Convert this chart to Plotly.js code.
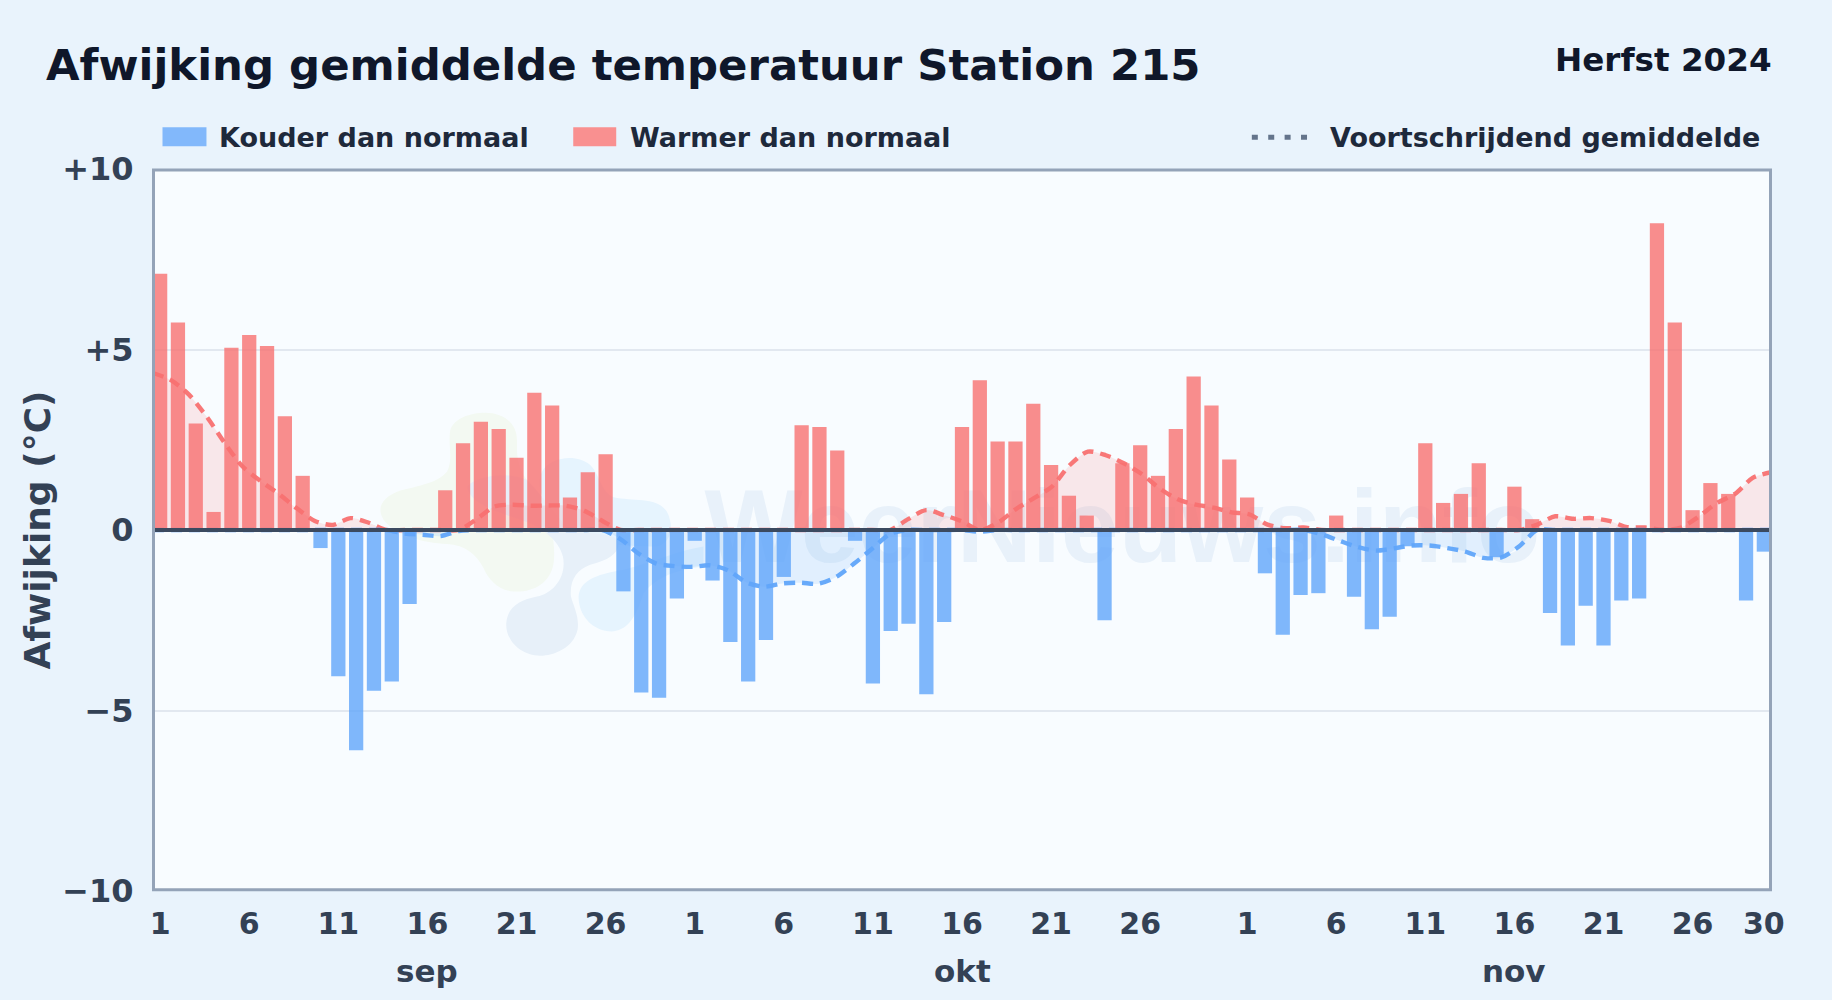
<!DOCTYPE html>
<html>
<head>
<meta charset="utf-8">
<script src="https://cdn.plot.ly/plotly-3.0.1.min.js"></script>
<style>html,body{margin:0;padding:0;background:#e9f3fc}#chart{width:1832px;height:1000px}</style>
</head>
<body>
<div id="chart"></div>
<script>
const anomalySep = [7.1,5.75,2.95,0.5,5.05,5.4,5.1,3.15,1.5,-0.5,-4.05,-6.1,-4.45,-4.2,-2.05,0,1.1,2.4,3.0,2.8,2.0,3.8,3.45,0.9,1.6,2.1,-1.7,-4.5,-4.65,-1.9];
const anomalyOkt = [-0.3,-1.4,-3.1,-4.2,-3.05,-1.3,2.9,2.85,2.2,-0.3,-4.25,-2.8,-2.6,-4.55,-2.55,2.85,4.15,2.45,2.45,3.5,1.8,0.95,0.4,-2.5,1.85,2.35,1.5,2.8,4.25,3.45,1.95];
const anomalyNov = [0.9,-1.2,-2.9,-1.8,-1.75,0.4,-1.85,-2.75,-2.4,-0.45,2.4,0.75,1.0,1.85,-0.75,1.2,0.3,-2.3,-3.2,-2.1,-3.2,-1.95,-1.9,8.5,5.75,0.55,1.3,1.0,-1.95,-0.6];
const rollingSep = [4.35,4.15,3.75,3.13,2.4,1.75,1.35,1.0,0.6,0.25,0.14,0.33,0.2,0.0,-0.1,-0.13,-0.17,-0.03,0.3,0.65,0.7,0.67,0.68,0.67,0.53,0.25,-0.25,-0.65,-0.93,-1.0];
const rollingOkt = [-1.02,-0.98,-1.12,-1.45,-1.57,-1.48,-1.46,-1.49,-1.3,-0.93,-0.52,-0.11,0.3,0.55,0.41,0.24,-0.05,0.2,0.58,0.88,1.2,1.8,2.17,2.07,1.85,1.55,1.15,0.85,0.7,0.62,0.49];
const rollingNov = [0.43,0.15,0.05,0.07,-0.12,-0.3,-0.47,-0.57,-0.51,-0.43,-0.43,-0.5,-0.6,-0.77,-0.76,-0.45,0.15,0.38,0.31,0.33,0.25,0.08,0.07,0.0,0.07,0.38,0.75,1.0,1.45,1.6];
const xTickIdx = [0,5,10,15,20,25,30,35,40,45,50,55,61,66,71,76,81,86,90];
const xTickText = ['1','6','11','16','21','26','1','6','11','16','21','26','1','6','11','16','21','26','30'];
const yTickVals = [10,5,0,-5,-10];
const yTickText = ['+10','+5','0','−5','−10'];
const monthNames = ['sep','okt','nov'];
const monthCenters = [15,45,76];
const legendNames = ['Kouder dan normaal','Warmer dan normaal','Voortschrijdend gemiddelde'];

const anomaly = anomalySep.concat(anomalyOkt, anomalyNov);
const rolling = rollingSep.concat(rollingOkt, rollingNov);
const idx = anomaly.map((_, i) => i);
const P = {l:152.5, r:1771.5, t:168.7, b:891.5};
const px = v => (v - P.l) / (P.r - P.l);
const py = v => (P.b - v) / (P.b - P.t);
const FONT = 'DejaVu Sans';

function blob(pts){
  return pts.replace(/(-?[\d.]+),(-?[\d.]+)/g, (m,a,b)=>{
    const x = 370 + parseFloat(a)/3, y = 400 + parseFloat(b)/3;
    return px(x).toFixed(5)+','+py(y).toFixed(5);
  });
}
const greenBlob = 'M240,90 C250,55 300,38 345,38 C400,38 440,70 440,120 C440,170 440,210 480,250 C530,310 560,420 550,490 C540,550 490,578 430,575 C385,572 355,540 340,505 C320,465 285,435 230,432 C160,428 80,410 40,360 C15,320 40,290 90,272 C140,258 200,250 230,215 C250,180 232,130 240,90 Z';
const slateBlob = 'M290,260 C320,225 420,215 470,240 C520,290 560,350 600,395 C660,400 720,400 742,420 C755,455 720,480 660,495 C620,510 598,540 602,590 C610,620 628,650 622,690 C610,745 550,768 510,768 C450,768 405,720 408,670 C412,620 450,600 500,590 C550,580 590,530 578,470 C565,420 520,390 480,370 C400,340 300,320 290,260 Z';
const skyBlobA = 'M515,215 C540,170 620,160 660,195 C690,225 690,275 730,292 C790,305 860,290 890,335 C915,385 900,430 860,440 C760,440 640,430 590,395 C540,360 490,270 515,215 Z';
const skyBlobB = 'M625,590 C630,545 670,525 760,510 C840,490 930,450 1000,440 L1000,500 C920,510 860,530 820,580 C800,640 780,690 725,695 C670,695 625,650 625,590 Z';
const blobStyle = (path, col) => ({type:'path', xref:'paper', yref:'paper', path:blob(path), fillcolor:col, line:{width:0}, layer:'below'});

const warm = anomaly.map(v => v > 0 ? v : null);
const cold = anomaly.map(v => v < 0 ? v : null);
const rollWarm = rolling.map(v => Math.max(v, 0));
const rollCold = rolling.map(v => Math.min(v, 0));
const lineStyle = c => ({color:c, width:4.4, dash:'11px,7px', shape:'spline', smoothing:0.8});

const traces = [
  {type:'scatter', mode:'lines', x:idx, y:rollWarm, xaxis:'x', yaxis:'y', fill:'tozeroy', fillcolor:'rgba(248,113,113,0.15)', line:lineStyle('rgba(248,113,113,0.95)'), hoverinfo:'skip', showlegend:false},
  {type:'scatter', mode:'lines', x:idx, y:rollCold, xaxis:'x', yaxis:'y', fill:'tozeroy', fillcolor:'rgba(96,165,250,0.15)', line:lineStyle('rgba(96,165,250,0.95)'), hoverinfo:'skip', showlegend:false},
  {type:'bar', x:idx, y:cold, xaxis:'x2', yaxis:'y', width:0.8, marker:{color:'#60a5fa', opacity:0.8, line:{width:0}}, name:legendNames[0], showlegend:false},
  {type:'bar', x:idx, y:warm, xaxis:'x2', yaxis:'y', width:0.8, marker:{color:'#f87171', opacity:0.8, line:{width:0}}, name:legendNames[1], showlegend:false}
];

const layout = {
  width:1832, height:1000,
  margin:{l:P.l, r:1832-P.r, t:P.t, b:1000-P.b, pad:0},
  paper_bgcolor:'#e9f3fc', plot_bgcolor:'#f8fcff',
  barmode:'overlay', showlegend:false,
  font:{family:FONT, color:'#334155'},
  xaxis:{range:[0,90], showgrid:false, zeroline:false, showticklabels:false, ticks:'', showline:false, fixedrange:true},
  xaxis2:{overlaying:'x', side:'bottom', range:[-0.4,90.4], tickmode:'array', tickvals:xTickIdx, ticktext:xTickText, showgrid:false, zeroline:false, ticks:'outside', ticklen:6, tickcolor:'rgba(0,0,0,0)', tickfont:{family:FONT, size:30, color:'#334155', weight:700}, fixedrange:true},
  yaxis:{range:[-10,10], tickmode:'array', tickvals:yTickVals, ticktext:yTickText, gridcolor:'#e2e8f0', gridwidth:2, zeroline:false, showline:false, ticks:'outside', ticklen:12, tickcolor:'rgba(0,0,0,0)', tickfont:{family:FONT, size:32, color:'#334155', weight:700}, title:{text:'Afwijking (°C)', font:{family:FONT, size:36, color:'#334155', weight:700}, standoff:0}, fixedrange:true},
  shapes:[
    blobStyle(skyBlobA,'#e6f4fe'),
    blobStyle(skyBlobB,'#e6f4fe'),
    blobStyle(greenBlob,'#f3f9f2'),
    blobStyle(slateBlob,'#e7f0f9'),
    {type:'rect', xref:'paper', yref:'paper', x0:px(700), x1:px(1545), y0:py(576), y1:py(456), fillcolor:'rgba(0,0,0,0)', line:{width:0}, layer:'below',
      label:{text:'<b>WeerNieuws.info</b>', textposition:'middle center', font:{family:'Liberation Sans', size:104, color:'#e8f1fa'}}},
    {type:'line', xref:'paper', yref:'y', x0:0, x1:1, y0:0, y1:0, line:{color:'#3b4a60', width:4}, layer:'above'},
    {type:'rect', xref:'paper', yref:'paper', x0:px(153), x1:px(1771), y0:py(890.2), y1:py(169.7), fillcolor:'rgba(0,0,0,0)', line:{color:'#94a3b8', width:3}, layer:'above'},
    {type:'rect', xref:'paper', yref:'paper', x0:px(162), x1:px(206), y0:py(127), y1:py(146), fillcolor:'#82b8fb', line:{width:0}},
    {type:'rect', xref:'paper', yref:'paper', x0:px(573), x1:px(616), y0:py(127), y1:py(146), fillcolor:'#f99090', line:{width:0}},
    {type:'line', xref:'paper', yref:'paper', x0:px(1252), x1:px(1308), y0:py(137), y1:py(137), line:{color:'#64748b', width:5, dash:'6px,10.4px'}}
  ],
  annotations:[
    {xref:'paper', yref:'paper', x:px(43.5), y:py(65), xanchor:'left', yanchor:'middle', showarrow:false, text:'<b>Afwijking gemiddelde temperatuur Station 215</b>', font:{family:FONT, size:43.4, color:'#0f172a'}},
    {xref:'paper', yref:'paper', x:px(1775), y:py(60), xanchor:'right', yanchor:'middle', showarrow:false, text:'<b>Herfst 2024</b>', font:{family:FONT, size:32.6, color:'#0f172a'}},
    {xref:'paper', yref:'paper', x:px(216.5), y:py(137), xanchor:'left', yanchor:'middle', showarrow:false, text:'<b>'+legendNames[0]+'</b>', font:{family:FONT, size:27, color:'#1e293b'}},
    {xref:'paper', yref:'paper', x:px(628), y:py(137), xanchor:'left', yanchor:'middle', showarrow:false, text:'<b>'+legendNames[1]+'</b>', font:{family:FONT, size:27, color:'#1e293b'}},
    {xref:'paper', yref:'paper', x:px(1762), y:py(137), xanchor:'right', yanchor:'middle', showarrow:false, text:'<b>'+legendNames[2]+'</b>', font:{family:FONT, size:27, color:'#1e293b'}}
  ].concat(monthNames.map((m,i)=>({xref:'x2', yref:'paper', x:monthCenters[i], y:py(972), xanchor:'center', yanchor:'middle', showarrow:false, text:'<b>'+m+'</b>', font:{family:FONT, size:31, color:'#334155'}})))
};
Plotly.newPlot('chart', traces, layout, {displayModeBar:false, staticPlot:true});
</script>
</body>
</html>
